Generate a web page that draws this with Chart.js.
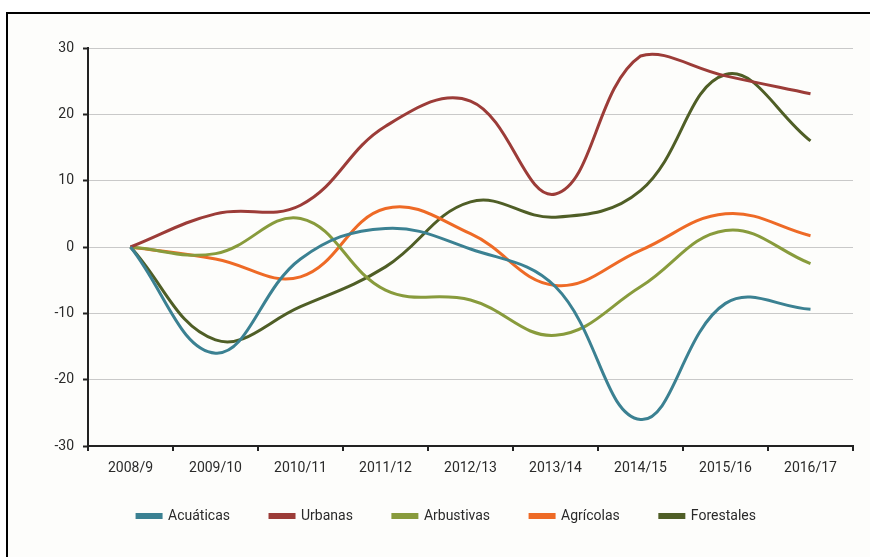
<!DOCTYPE html>
<html>
<head>
<meta charset="utf-8">
<script src="https://cdn.jsdelivr.net/npm/chart.js@4/dist/chart.umd.min.js"></script>
<style>
  html, body { margin: 0; padding: 0; background: #ffffff; overflow: hidden; }
  #frame { position: absolute; left: 6px; top: 12px; width: 880px; height: 580px;
           border: 2px solid #000; background: #fdfdfb; }
  #wrap { position: absolute; left: 0; top: 0; width: 870px; height: 557px; }
</style>
</head>
<body>
<div id="frame"></div>
<div id="wrap"><canvas id="c" width="870" height="557"></canvas></div>
<script>
const categories = ["2008/9", "2009/10", "2010/11", "2011/12", "2012/13", "2013/14", "2014/15", "2015/16", "2016/17"];
const seriesNames = ["Acuáticas", "Urbanas", "Arbustivas", "Agrícolas", "Forestales"];
const acuaticas  = [0, -16, -1.8, 2.8, -0.3, -6, -26, -8.5, -9.4];
const urbanas    = [0, 5, 6.3, 18.2, 22, 8, 28.8, 25.8, 23.1];
const arbustivas = [0, -1, 4.3, -6.5, -8, -13.3, -6, 2.5, -2.5];
const agricolas  = [0, -1.8, -4.5, 5.8, 2, -5.8, -0.5, 5, 1.7];
const forestales = [0, -14, -9, -3, 6.8, 4.5, 8.5, 26, 16];
const yTicks = [-30, -20, -10, 0, 10, 20, 30];

const colors = ["#3b8192", "#9c3c38", "#889b3c", "#ee6a26", "#4f5e26"];
const values = [acuaticas, urbanas, arbustivas, agricolas, forestales];

const datasets = seriesNames.map((name, i) => ({
  label: name,
  data: values[i],
  borderColor: colors[i],
  backgroundColor: colors[i],
  borderWidth: 3,
  pointRadius: 0,
  pointHoverRadius: 0,
  tension: 0.4,
  fill: false
}));

const font = { family: "Roboto, 'DejaVu Sans', sans-serif", size: 14 };

// nudge the legend row up a few pixels after layout
const legendNudge = {
  id: "legendNudge",
  afterLayout(chart) {
    const lg = chart.legend;
    if (lg) { lg.top -= 7; lg.bottom -= 7; }
  }
};

new Chart(document.getElementById("c"), {
  type: "line",
  data: { labels: categories, datasets },
  plugins: [legendNudge],
  options: {
    responsive: false,
    animation: false,
    events: [],
    layout: { padding: { top: 48, right: 17, left: 40, bottom: 17 } },
    plugins: {
      tooltip: { enabled: false },
      legend: {
        position: "bottom",
        labels: {
          boxWidth: 24,
          boxHeight: 3,
          padding: 40,
          color: "#2a2a2a",
          font: font
        }
      }
    },
    scales: {
      x: {
        offset: true,
        grid: { display: true, drawOnChartArea: false, drawTicks: true, tickLength: 5,
                color: "#222", lineWidth: 2, offset: true },
        border: { display: true, color: "#222", width: 2 },
        ticks: { color: "#2a2a2a", font: font, padding: 9, maxRotation: 0 },
        afterFit: (s) => { s.height = 30; }
      },
      y: {
        min: -30,
        max: 30,
        afterBuildTicks: (s) => { s.ticks = yTicks.map(v => ({ value: v })); },
        grid: { color: "#c9c9c9", lineWidth: 1, tickLength: 5, tickColor: "#222", tickWidth: 2 },
        border: { display: true, color: "#222", width: 2 },
        ticks: { color: "#2a2a2a", font: font, padding: 9 },
        afterFit: (s) => { s.width = 48; }
      }
    }
  }
});
</script>
</body>
</html>
